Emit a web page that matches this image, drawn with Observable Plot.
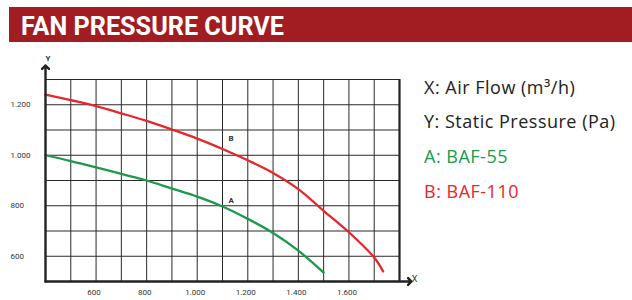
<!DOCTYPE html>
<html>
<head>
<meta charset="utf-8">
<script src="https://cdn.jsdelivr.net/npm/d3@7"></script>
<script src="https://cdn.jsdelivr.net/npm/@observablehq/plot@0.6"></script>
<style>
  html, body { margin: 0; padding: 0; background: #fff; }
  body { width: 632px; height: 300px; position: relative; overflow: hidden; font-family: Roboto, "Noto Sans", sans-serif; }
  #title { position: absolute; left: 9px; top: 7px; width: 623px; height: 35px; background: #a11d22; }
  #title span { position: absolute; left: 12px; top: 6px; color: #fff; font-family: Roboto, sans-serif; font-weight: bold; font-size: 26px; line-height: 1; transform-origin: 0 0; display: inline-block; white-space: nowrap; }
  #chart { position: absolute; left: 0; top: 42px; }
  .leg { position: absolute; left: 424px; font-family: "Open Sans", sans-serif; font-size: 18px; letter-spacing: 0.5px; white-space: nowrap; line-height: 1; }
</style>
</head>
<body>
<div id="title"><span id="tt">FAN PRESSURE CURVE</span></div>
<div id="chart"></div>
<div class="leg" style="top:78px;color:#222">X: Air Flow (m³/h)</div>
<div class="leg" style="top:112px;color:#222">Y: Static Pressure (Pa)</div>
<div class="leg" style="top:147px;color:#1a9a4a">A: BAF-55</div>
<div class="leg" style="top:182px;color:#e8262d">B: BAF-110</div>
<script>
const flowA = [400, 500, 600, 700, 800, 900, 1000, 1100, 1200, 1300, 1400, 1500];
const pressA = [1000, 977, 952, 926, 900, 868, 836, 797, 748, 692, 622, 535];
const flowB = [400, 500, 600, 700, 800, 900, 1000, 1100, 1200, 1300, 1400, 1500, 1600, 1700, 1735];
const pressB = [1240, 1218, 1195, 1166, 1136, 1102, 1066, 1025, 980, 930, 866, 780, 695, 595, 540];
const xTicks = [600, 800, 1000, 1200, 1400, 1600];
const yTicks = [600, 800, 1000, 1200];
const xGrid = [500, 600, 700, 800, 900, 1000, 1100, 1200, 1300, 1400, 1500, 1600, 1700];
const yGrid = [600, 700, 800, 900, 1000, 1100, 1200];
const xDomain = [400, 1800];
const yDomain = [500, 1300];
const labels = [
  {name: "A", flow: 1134, press: 822},
  {name: "B", flow: 1134, press: 1066}
];

const A = flowA.map((f, i) => ({flow: f, press: pressA[i]}));
const B = flowB.map((f, i) => ({flow: f, press: pressB[i]}));

const fmt = d3.formatLocale({thousands: ".", grouping: [3], decimal: ","}).format(",");

const plot = Plot.plot({
  width: 632,
  height: 258,
  marginLeft: 45,
  marginRight: 233,
  marginTop: 37,
  marginBottom: 19,
  x: {domain: xDomain},
  y: {domain: yDomain},
  style: {fontFamily: "Roboto, sans-serif", fontSize: "8px", color: "#333"},
  marks: [
    Plot.gridX(xGrid, {stroke: "#2a2a2a", strokeOpacity: 1, strokeWidth: 1}),
    Plot.gridY(yGrid, {stroke: "#2a2a2a", strokeOpacity: 1, strokeWidth: 1}),
    Plot.ruleY([yDomain[1]], {stroke: "#2a2a2a", strokeWidth: 1}),
    Plot.ruleX([xDomain[1]], {stroke: "#222", strokeWidth: 2.2}),
    Plot.axisX(xTicks, {tickSize: 0, tickPadding: 8, tickFormat: fmt, dx: -2, fill: "#333", label: null}),
    Plot.axisY(yTicks, {tickSize: 0, tickPadding: 0, textAnchor: "start", dx: -35, tickFormat: fmt, fill: "#333", label: null}),
    Plot.line(A, {x: "flow", y: "press", stroke: "#1a9a4a", strokeWidth: 2.3, curve: "catmull-rom"}),
    Plot.line(B, {x: "flow", y: "press", stroke: "#e8262d", strokeWidth: 2.3, curve: "catmull-rom"}),
    Plot.text(labels, {x: "flow", y: "press", text: "name", fontWeight: "bold", fontSize: 8, fill: "#333"}),
    Plot.arrow([0], {x1: xDomain[0], y1: yDomain[0], x2: xDomain[0], y2: yDomain[1], insetEnd: -14, headLength: 3, headAngle: 90, stroke: "#222", strokeWidth: 2.4}),
    Plot.arrow([0], {x1: xDomain[0], y1: yDomain[0], x2: xDomain[1], y2: yDomain[0], insetEnd: -12, headLength: 3, headAngle: 90, stroke: "#222", strokeWidth: 2.4}),
    Plot.text(["Y"], {frameAnchor: "top-left", dy: -24, fontSize: 8, fontWeight: "bold", fill: "#333"}),
    Plot.text(["X"], {frameAnchor: "bottom-right", dx: 18, fontSize: 9, fill: "#333"})
  ]
});
document.getElementById("chart").appendChild(plot);

// fit title width to the reference's condensed look
const tt = document.getElementById("tt");
const w = tt.getBoundingClientRect().width;
tt.style.transform = `scaleX(${263 / w})`;
</script>
</body>
</html>
